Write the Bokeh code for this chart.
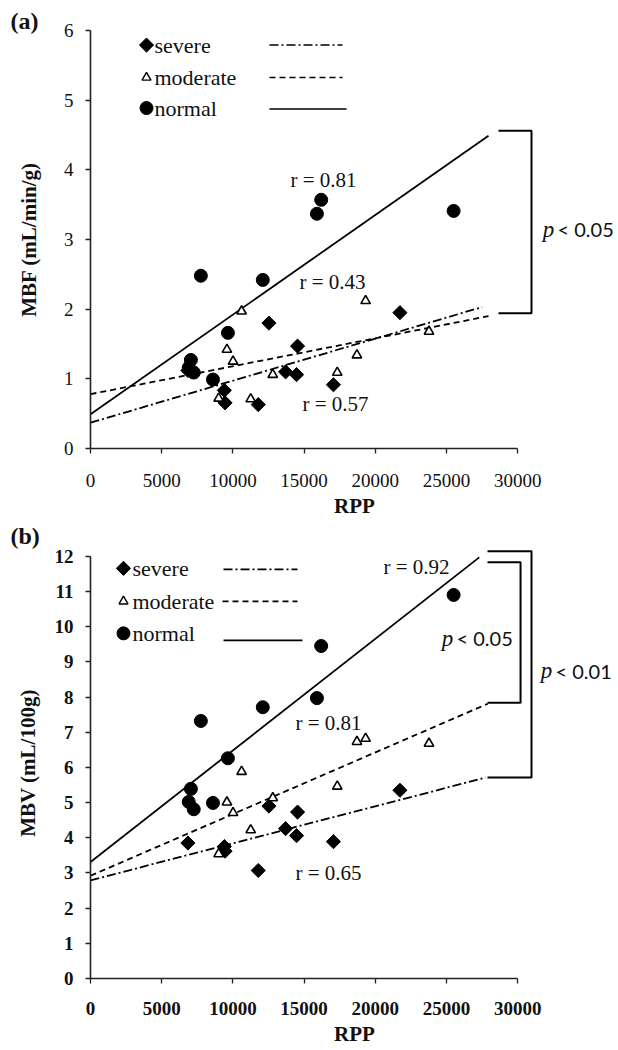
from bokeh.plotting import figure
from bokeh.models import Range1d, Label, FixedTicker
from bokeh.layouts import column
from bokeh.embed import file_html
from bokeh.resources import INLINE

# ---------------- data ----------------
rpp_normal = [6900, 7050, 7250, 7750, 8600, 9650, 12100, 15900, 16200, 25500]
mbf_normal = [1.16, 1.27, 1.09, 2.48, 0.99, 1.66, 2.42, 3.37, 3.57, 3.41]
mbv_normal = [5.02, 5.39, 4.81, 7.32, 4.99, 6.26, 7.71, 7.97, 9.45, 10.90]

rpp_moderate = [9000, 9580, 10010, 10610, 11250, 12800, 17330, 18710, 19320, 23770]
mbf_moderate = [0.72, 1.42, 1.25, 1.97, 0.71, 1.06, 1.09, 1.34, 2.12, 1.68]
mbv_moderate = [3.54, 5.01, 4.71, 5.88, 4.22, 5.13, 5.46, 6.73, 6.82, 6.68]

rpp_severe = [6840, 9400, 9450, 11780, 12530, 13700, 14470, 14540, 17060, 21730]
mbf_severe = [1.12, 0.835, 0.655, 0.63, 1.80, 1.10, 1.06, 1.47, 0.915, 1.95]
mbv_severe = [3.85, 3.75, 3.62, 3.07, 4.90, 4.26, 4.06, 4.73, 3.89, 5.35]

# regression lines: [x_start, x_end], [y_start, y_end]
fit_a_normal_x, fit_a_normal_y = [0, 27950], [0.49, 4.49]
fit_a_moderate_x, fit_a_moderate_y = [0, 27950], [0.78, 1.90]
fit_a_severe_x, fit_a_severe_y = [0, 27500], [0.37, 2.03]
fit_b_normal_x, fit_b_normal_y = [0, 27300], [3.31, 11.97]
fit_b_moderate_x, fit_b_moderate_y = [0, 27900], [2.92, 7.81]
fit_b_severe_x, fit_b_severe_y = [0, 27750], [2.79, 5.71]

r_a = ["r = 0.81", "r = 0.43", "r = 0.57"]
r_b = ["r = 0.92", "r = 0.81", "r = 0.65"]
x_ticks = [0, 5000, 10000, 15000, 20000, 25000, 30000]
y_ticks_a = [0, 1, 2, 3, 4, 5, 6]
y_ticks_b = list(range(0, 13))

SERIF = "Liberation Serif"
SANS = "Lato"
W = 618
LEFT = 90
XPX = 71.2 / 5000.0            # px per RPP unit
X_END = (W - LEFT) / XPX        # frame right edge in data


def base_fig(height, top, bottom, y_end, yticks, ylabel, bold_ticks, tag, tag_standoff):
    p = figure(width=W, height=height, output_backend="svg", toolbar_location=None,
               x_range=Range1d(0, X_END), y_range=Range1d(0, y_end),
               min_border_left=LEFT, min_border_right=0, min_border_top=top,
               min_border_bottom=bottom)
    p.outline_line_color = None
    p.grid.visible = False
    p.background_fill_color = "white"
    p.title.text = tag
    p.title.text_font = SERIF
    p.title.text_font_size = "24px"
    p.title.text_font_style = "bold"
    p.title.text_color = "#111111"
    p.title.align = "left"
    p.title.offset = -80
    p.title.standoff = tag_standoff
    for ax in (p.xaxis[0], p.yaxis[0]):
        ax.axis_line_color = "#222222"
        ax.axis_line_width = 1.6
        ax.major_tick_line_color = "#222222"
        ax.major_tick_line_width = 1.3
        ax.major_tick_out = 5
        ax.major_tick_in = 0
        ax.minor_tick_line_color = None
        ax.major_label_text_font = SERIF
        ax.major_label_text_font_size = "19px"
        ax.major_label_text_color = "#111111"
        ax.major_label_text_font_style = "bold" if bold_ticks else "normal"
        ax.axis_label_text_font = SERIF
        ax.axis_label_text_font_style = "bold"
        ax.axis_label_text_font_size = "21px"
        ax.axis_label_text_color = "#111111"
    p.xaxis.ticker = FixedTicker(ticks=x_ticks)
    p.xaxis.bounds = (0, 30000)
    p.xaxis.axis_label = "RPP"
    p.xaxis.major_label_standoff = 20
    p.xaxis.axis_label_standoff = 4
    p.yaxis.ticker = FixedTicker(ticks=yticks)
    p.yaxis.bounds = (yticks[0], yticks[-1])
    p.yaxis.axis_label = ylabel
    p.yaxis.major_label_standoff = 12
    return p


def draw_panel(p, fits, pts, yconv, legend_px, legend_lines, rlabels, rpos):
    dashes = {"severe": "9 3 2 3", "moderate": "6 4", "normal": "solid"}
    for key in ("severe", "moderate", "normal"):
        fx, fy = fits[key]
        p.line(fx, fy, line_color="black", line_width=1.8, line_dash=dashes[key])
    (sx, sy), (mx, my), (nx, ny) = pts
    p.scatter(sx, sy, marker="square", angle=0.7854, size=10, fill_color="black",
              line_color="black")
    p.scatter(mx, my, marker="triangle", size=9.5, fill_color="white",
              line_color="black", line_width=1.6)
    p.scatter(nx, ny, marker="circle", size=13, fill_color="black",
              line_color="black")
    # legend
    tx = lambda px: (px - LEFT) / XPX
    for (key, mk_px, txt_px, row_px, line_row_px), (l0, l1) in zip(legend_px, legend_lines):
        yy = yconv(row_px)
        if key == "severe":
            p.scatter([tx(mk_px)], [yy], marker="square", angle=0.7854, size=10,
                      fill_color="black", line_color="black")
        elif key == "moderate":
            p.scatter([tx(mk_px)], [yy], marker="triangle", size=9, fill_color="white",
                      line_color="black", line_width=1.4)
        else:
            p.scatter([tx(mk_px)], [yy], marker="circle", size=13, fill_color="black",
                      line_color="black")
        p.add_layout(Label(x=tx(txt_px), y=yy, text=key, text_font=SERIF,
                           text_font_size="22px", text_align="left",
                           text_baseline="middle", text_color="#111111"))
        ly = yconv(line_row_px)
        p.line([tx(l0), tx(l1)], [ly, ly], line_color="black", line_width=1.6,
               line_dash=dashes[key])
    for t, (x, y) in zip(rlabels, rpos):
        p.add_layout(Label(x=x, y=y, text=t, text_font=SERIF, text_font_size="21px",
                           text_align="center", text_baseline="middle",
                           text_color="#111111"))


def bracket(p, x0, x1, ytop, ybot):
    p.line([x0, x1, x1, x0], [ytop, ytop, ybot, ybot], line_color="black", line_width=2)


def plabel(p, x, y, rest):
    p.add_layout(Label(x=x, y=y, text="p", text_font=SERIF, text_font_size="23px",
                       text_font_style="italic", text_align="center",
                       text_baseline="middle", text_color="#111111"))
    p.add_layout(Label(x=x + 9 / XPX, y=y, text=rest, text_font=SANS,
                       text_font_size="20px", text_align="left",
                       text_baseline="middle", text_color="#111111"))


# ---------------- panel (a) ----------------
ya = lambda ypx: (455 - ypx) / 70.8
pa = base_fig(520, 30, 65, 6, y_ticks_a, "MBF (mL/min/g)", False, "(a)", -6)
pa.yaxis.axis_label_standoff = 20
draw_panel(
    pa,
    {"normal": (fit_a_normal_x, fit_a_normal_y),
     "moderate": (fit_a_moderate_x, fit_a_moderate_y),
     "severe": (fit_a_severe_x, fit_a_severe_y)},
    ((rpp_severe, mbf_severe), (rpp_moderate, mbf_moderate), (rpp_normal, mbf_normal)),
    ya,
    [("severe", 146, 154, 45, 45), ("moderate", 146, 154, 78, 78), ("normal", 146, 154, 109, 110)],
    [(269, 342), (269, 342), (269, 346)],
    r_a,
    [(16362, 3.86), (16994, 2.39), (17205, 0.64)])
bracket(pa, 28650, 30970, 4.56, 1.94)
plabel(pa, 32163, 3.15, "< 0.05")

# ---------------- panel (b) ----------------
yb = lambda ypx: (978 - ypx) / 35.17
pb = base_fig(528, 27, 70, 12.25, y_ticks_b, "MBV (mL/100g)", True, "(b)", -3)
pb.yaxis.axis_label_standoff = 12
pb.xaxis.major_label_standoff = 18
draw_panel(
    pb,
    {"normal": (fit_b_normal_x, fit_b_normal_y),
     "moderate": (fit_b_moderate_x, fit_b_moderate_y),
     "severe": (fit_b_severe_x, fit_b_severe_y)},
    ((rpp_severe, mbv_severe), (rpp_moderate, mbv_moderate), (rpp_normal, mbv_normal)),
    yb,
    [("severe", 123, 132, 568, 569), ("moderate", 123, 132, 601, 601), ("normal", 123, 132, 633, 640)],
    [(223, 297), (222, 297), (223, 302)],
    r_b,
    [(22893, 11.69), (16713, 7.25), (16713, 2.99)])
bracket(pb, 27880, 30970, 12.14, 5.71)
bracket(pb, 27880, 30200, 11.83, 7.84)
plabel(pb, 25070, 9.67, "< 0.05")
plabel(pb, 32022, 8.74, "< 0.01")

layout = column(pa, pb, spacing=0)
open("out.html", "w").write(file_html(layout, INLINE))
